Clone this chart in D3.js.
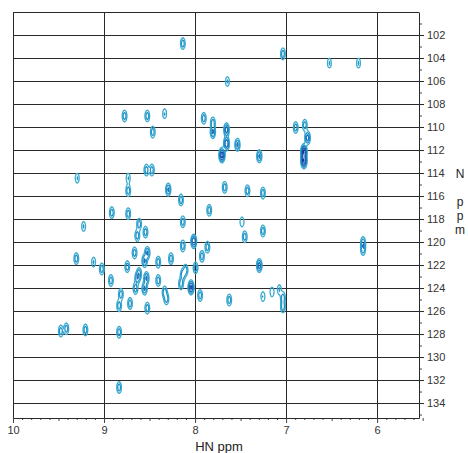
<!DOCTYPE html>
<html>
<head>
  <meta charset="utf-8">
  <title>HSQC spectrum</title>
  <style>
    body { margin: 0; background: #fff; }
    text { font-family: "Liberation Sans", Arial, sans-serif; }
  </style>
</head>
<body>
  <script src="https://d3js.org/d3.v7.min.js" charset="utf-8"></script>
  <script type="text/javascript">
    // peak list: HN shift, N shift, relative height
    var hn = [8.14, 7.04, 6.53, 6.21, 7.65, 8.78, 8.53, 8.34, 8.47, 7.91,
              7.81, 7.81, 7.66, 7.66, 7.71, 7.54, 7.30, 6.90, 6.80, 6.77,
              6.81, 6.81, 9.30, 8.74, 8.54, 8.48, 8.74, 8.30, 8.16, 7.68,
              7.43, 7.26, 8.92, 8.74, 7.85, 9.23, 8.62, 8.14, 7.49, 7.46,
              7.26, 8.64, 8.55, 8.02, 8.14, 7.87, 6.16, 8.67, 8.53, 8.56,
              8.41, 8.27, 7.93, 9.31, 9.12, 9.03, 8.75, 8.00, 8.11, 8.14,
              7.30, 8.62, 8.64, 8.54, 8.93, 8.41, 8.16, 8.05, 8.66, 8.56,
              8.34, 8.32, 8.82, 7.95, 7.16, 7.08, 7.26, 7.04, 7.63, 8.84,
              8.72, 8.53, 9.48, 9.42, 9.21, 8.84, 8.84, 7.04, 6.16];
    var nppm = [102.7, 103.6, 104.4, 104.4, 106.0, 109.0, 109.0, 108.8, 110.4, 109.2,
                109.6, 110.4, 110.2, 111.4, 112.4, 111.5, 112.5, 110.0, 109.8, 110.9,
                112.1, 112.9, 114.4, 114.4, 113.7, 113.7, 115.5, 115.4, 116.3, 115.2,
                115.5, 115.7, 117.4, 117.5, 117.2, 118.6, 118.4, 118.2, 118.2, 119.5,
                119.0, 119.4, 119.1, 119.9, 120.3, 120.4, 120.0, 120.9, 120.9, 121.6,
                121.7, 121.4, 121.2, 121.4, 121.7, 122.3, 122.1, 122.2, 122.4, 122.8,
                122.0, 122.7, 123.1, 123.1, 123.3, 123.3, 123.6, 123.9, 124.0, 124.0,
                124.3, 124.9, 124.5, 124.6, 124.3, 124.1, 124.7, 124.8, 125.0, 125.5,
                125.3, 125.7, 127.7, 127.5, 127.6, 127.8, 132.6, 125.6, 120.6];
    var height = [3, 3, 2, 2, 2, 3, 3, 2, 3, 3,
                  3, 4, 5, 6, 8, 4, 4, 3, 3, 5,
                  9, 9, 2, 2, 3, 3, 3, 4, 3, 3,
                  3, 3, 3, 3, 3, 2, 3, 3, 2, 3,
                  3, 3, 3, 6, 3, 3, 3, 3, 4, 4,
                  3, 3, 3, 3, 2, 3, 3, 3, 3, 3,
                  5, 3, 3, 4, 3, 3, 3, 7, 3, 4,
                  3, 3, 3, 3, 2, 2, 2, 3, 3, 3,
                  3, 3, 3, 3, 3, 3, 3, 3, 3];

    var xTicks = [10, 9, 8, 7, 6];
    var yTicks = [102, 104, 106, 108, 110, 112, 114, 116, 118, 120, 122, 124, 126, 128, 130, 132, 134];

    var svgW = 468, svgH = 453;
    var padL = 13, padR = 419, padT = 12, padB = 418;

    var x = d3.scaleLinear().domain([10, 5.54]).range([padL, padR]);
    var y = d3.scaleLinear().domain([100, 135.3]).range([padT, padB]);

    var svg = d3.select('body').append('svg').attr('width', svgW).attr('height', svgH);

    // grid
    svg.append('g').selectAll('line').data(yTicks).enter().append('line')
      .attr('x1', padL).attr('x2', padR)
      .attr('y1', function(d) { return Math.round(y(d)) + 0.5; })
      .attr('y2', function(d) { return Math.round(y(d)) + 0.5; })
      .attr('stroke', '#2a2a2a').attr('stroke-width', 1);
    svg.append('g').selectAll('line').data(xTicks).enter().append('line')
      .attr('x1', function(d) { return Math.round(x(d)) + 0.5; })
      .attr('x2', function(d) { return Math.round(x(d)) + 0.5; })
      .attr('y1', padT).attr('y2', padB)
      .attr('stroke', '#2a2a2a').attr('stroke-width', 1);
    svg.append('line').attr('x1', padL).attr('x2', padR).attr('y1', padT + 0.5).attr('y2', padT + 0.5)
      .attr('stroke', '#2a2a2a');

    // contours from the peak list
    var W = padR - padL, H = padB - padT;
    var grid = new Float64Array(W * H);
    for (var p = 0; p < hn.length; p++) {
      var px = x(hn[p]) - padL, py = y(nppm[p]) - padT;
      var sx = x(hn[p]) - x(hn[p] + 0.016);
      var sy = y(nppm[p] + 0.32) - y(nppm[p]);
      var i0 = Math.max(0, Math.floor(px - 5 * sx)), i1 = Math.min(W - 1, Math.ceil(px + 5 * sx));
      var j0 = Math.max(0, Math.floor(py - 5 * sy)), j1 = Math.min(H - 1, Math.ceil(py + 5 * sy));
      for (var j = j0; j <= j1; j++) {
        for (var i = i0; i <= i1; i++) {
          var dx = (i - px) / sx, dy = (j - py) / sy;
          grid[j * W + i] += height[p] * Math.exp(-0.5 * (dx * dx + dy * dy));
        }
      }
    }
    var levels = [0.85, 1.9, 3.6, 6.0, 9.0];
    var colors = ['#3aaccf', '#2594c9', '#1d72bd', '#1750ab', '#10339a'];
    var contours = d3.contours().size([W, H]).thresholds(levels)(Array.from(grid));
    svg.append('g').attr('transform', 'translate(' + padL + ',' + padT + ')')
      .selectAll('path').data(contours).enter().append('path')
      .attr('d', d3.geoPath())
      .attr('fill', 'none')
      .attr('stroke', function(d, i) { return colors[i]; })
      .attr('stroke-width', 1.3);

    // bottom axis
    var minorX = d3.range(55, 101).map(function(d) { return d / 10; });
    svg.append('g').attr('transform', 'translate(0,' + padB + ')')
      .call(d3.axisBottom(x).tickValues(minorX.filter(function(d) { return Math.abs(d * 2 - Math.round(d * 2)) > 0.01; }))
        .tickSize(2).tickFormat(''))
      .call(function(g) { g.select('.domain').remove(); });
    svg.append('g').attr('transform', 'translate(0,' + padB + ')')
      .call(d3.axisBottom(x).tickValues([9.5, 8.5, 7.5, 6.5, 5.5]).tickSize(3).tickFormat(''))
      .call(function(g) { g.select('.domain').remove(); });
    var xAxis = svg.append('g').attr('transform', 'translate(0,' + padB + ')')
      .call(d3.axisBottom(x).tickValues(xTicks).tickSize(5).tickSizeOuter(0).tickPadding(3).tickFormat(d3.format('d')));
    xAxis.select('.domain').attr('stroke', '#2a2a2a');
    xAxis.selectAll('line').attr('stroke', '#2a2a2a');
    xAxis.selectAll('text').attr('font-size', 11).attr('fill', '#333');
    svg.selectAll('.tick line').attr('stroke', '#444');

    // right axis
    var minorY = d3.range(101, 136, 2);
    svg.append('g').attr('transform', 'translate(' + padR + ',0)')
      .call(d3.axisRight(y).tickValues(minorY).tickSize(3).tickFormat(''))
      .call(function(g) { g.select('.domain').remove(); g.selectAll('line').attr('stroke', '#444'); });
    var yAxis = svg.append('g').attr('transform', 'translate(' + padR + ',0)')
      .call(d3.axisRight(y).tickValues(yTicks).tickSize(5).tickSizeOuter(0).tickPadding(3).tickFormat(d3.format('d')));
    yAxis.select('.domain').attr('stroke', '#2a2a2a');
    yAxis.selectAll('line').attr('stroke', '#2a2a2a');
    yAxis.selectAll('text').attr('font-size', 11).attr('fill', '#333');

    // axis titles
    svg.append('text').text('HN ppm').attr('x', 219).attr('y', 451)
      .attr('text-anchor', 'middle').attr('font-size', 13).attr('fill', '#222');
    var yTitle = [['N', 178], ['p', 206], ['p', 220], ['m', 234]];
    svg.selectAll('.ytitle').data(yTitle).enter().append('text').attr('class', 'ytitle')
      .text(function(d) { return d[0]; })
      .attr('x', 460).attr('y', function(d) { return d[1]; })
      .attr('text-anchor', 'middle').attr('font-size', 12).attr('fill', '#222');
  </script>
</body>
</html>
